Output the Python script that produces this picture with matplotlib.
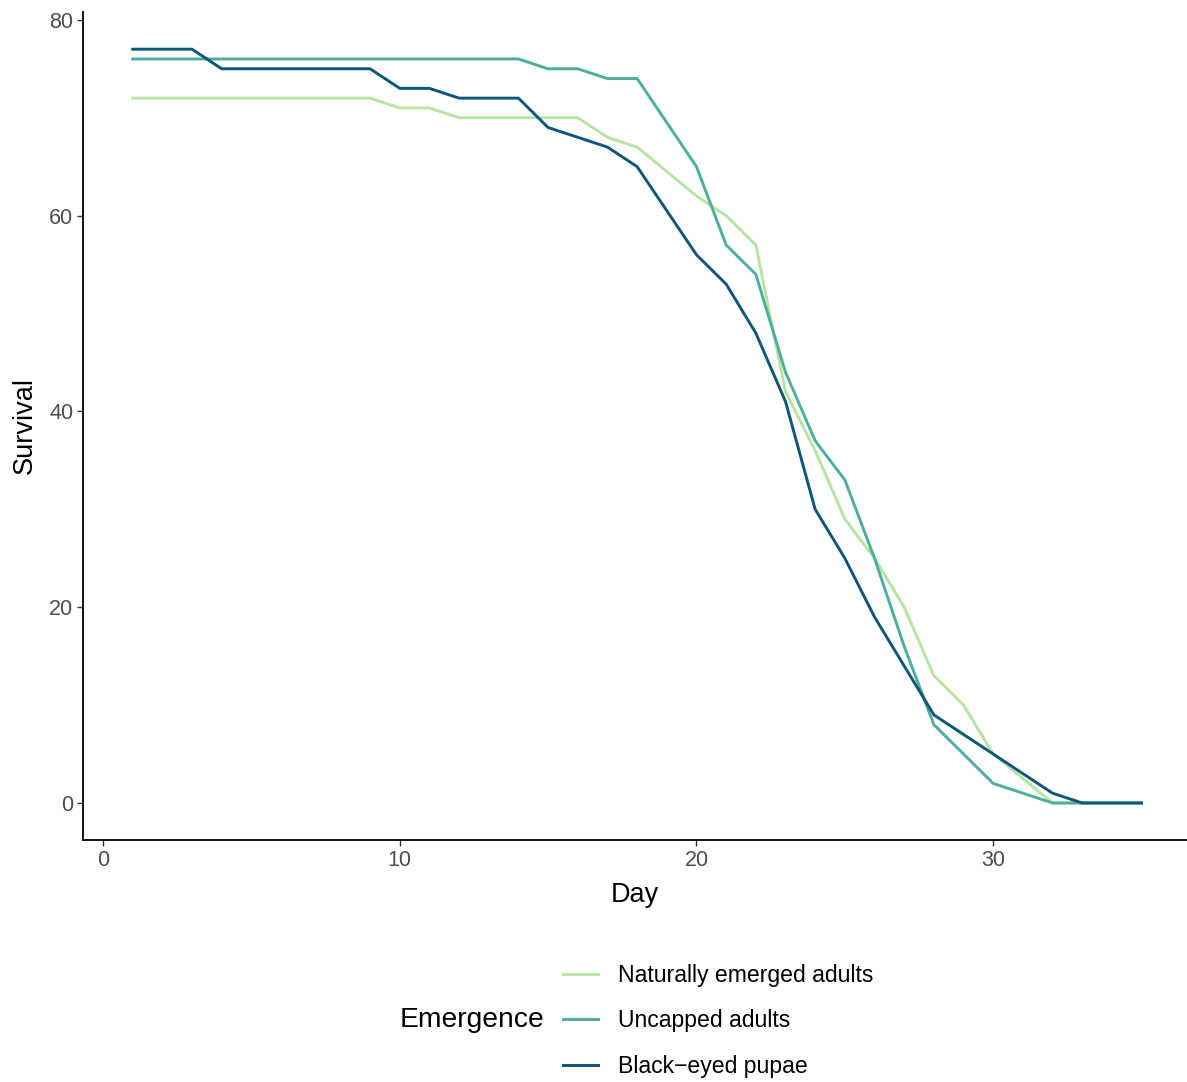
import matplotlib
matplotlib.use("Agg")
import matplotlib.pyplot as plt
from matplotlib.lines import Line2D

plt.rcParams["font.family"] = ["Liberation Sans", "DejaVu Sans"]

days = list(range(1, 36))

naturally_emerged = [72, 72, 72, 72, 72, 72, 72, 72, 72, 71, 71, 70, 70, 70, 70, 70,
                     68, 67, 64.5, 62, 60, 57, 42, 36, 29, 25, 20, 13, 10, 5, 2.5, 0,
                     0, 0, 0]
uncapped = [76, 76, 76, 76, 76, 76, 76, 76, 76, 76, 76, 76, 76, 76, 75, 75,
            74, 74, 69.5, 65, 57, 54, 44, 37, 33, 25, 16, 8, 5, 2, 1, 0,
            0, 0, 0]
black_eyed = [77, 77, 77, 75, 75, 75, 75, 75, 75, 73, 73, 72, 72, 72, 69, 68,
              67, 65, 60.5, 56, 53, 48, 41, 30, 25, 19, 14, 9, 7, 5, 3, 1,
              0, 0, 0]

series_labels = ["Naturally emerged adults", "Uncapped adults", "Black\u2212eyed pupae"]
series_colors = ["#b5e5a0", "#4cae9f", "#0b5679"]
x_ticks = [0, 10, 20, 30]
y_ticks = [0, 20, 40, 60, 80]

W, H = 1187, 1082
fig = plt.figure(figsize=(W / 100, H / 100), dpi=100)
ax = fig.add_axes([83 / W, 1 - 840 / H, 1 - 83 / W, (840 - 12) / H])

for vals, col in zip([naturally_emerged, uncapped, black_eyed], series_colors):
    ax.plot(days, vals, color=col, linewidth=2.1, solid_joinstyle="miter")

ax.set_xlim(-0.674, 36.53)
ax.set_ylim(-3.78, 80.8)
ax.set_xticks(x_ticks)
ax.set_yticks(y_ticks)

for side in ["top", "right"]:
    ax.spines[side].set_visible(False)
for side in ["left", "bottom"]:
    ax.spines[side].set_linewidth(1.3)
    ax.spines[side].set_color("black")

ax.tick_params(axis="both", length=4, width=1.0, color="#333333",
               labelsize=15.5, labelcolor="#4d4d4d", pad=3)

ax.set_xlabel("Day", fontsize=19.5, labelpad=8)
ax.set_ylabel("Survival", fontsize=19.5, labelpad=8)

handles = [Line2D([0], [0], color=c, linewidth=2.1) for c in series_colors]
fig.legend(handles, series_labels, loc="center left",
           bbox_to_anchor=(563 / W, 1 - 1021 / H), frameon=False,
           fontsize=16.6, handlelength=1.5, handletextpad=0.87,
           labelspacing=0.96, borderpad=0, borderaxespad=0)
fig.text(400 / W, 1 - 1020 / H, "Emergence", fontsize=20.3, va="center", ha="left")

fig.savefig("out.png", dpi=100, facecolor="white")
